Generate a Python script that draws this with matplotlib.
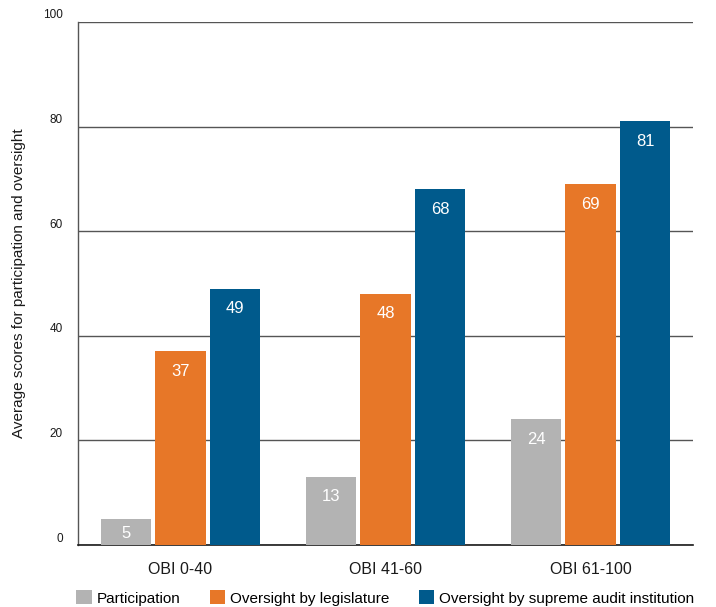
"""Average participation and oversight scores by OBI band."""

import matplotlib.pyplot as plt
import matplotlib.transforms as mtransforms
import numpy as np

GREY = "#B3B3B3"
ORANGE = "#E77728"
BLUE = "#005A8C"
INK = "#1A1A1A"
GRID = "#555555"

groups = ["OBI 0-40", "OBI 41-60", "OBI 61-100"]
series_names = [
    "Participation",
    "Oversight by legislature",
    "Oversight by supreme audit institution",
]
participation = [5, 13, 24]
legislature = [37, 48, 69]
audit = [49, 68, 81]
y_ticks = [0, 20, 40, 60, 80, 100]

plt.rcParams["font.family"] = ["Liberation Sans", "DejaVu Sans"]

fig = plt.figure(figsize=(7.16, 6.07), dpi=100)
ax = fig.add_axes([78 / 716, 62 / 607, 615 / 716, 523 / 607])

x = np.arange(len(groups))
width = 0.244
step = 0.266
colors = [GREY, ORANGE, BLUE]
all_series = [participation, legislature, audit]

for i, (vals, color, name) in enumerate(zip(all_series, colors, series_names)):
    pos = x + (i - 1) * step
    bars = ax.bar(pos, vals, width=width, color=color, label=name, zorder=3)
    for bar, v in zip(bars, vals):
        # label sits ~20 px under the bar top, or mid-bar when the bar is short
        drop = min(3.8, v / 2 + 0.3)
        ax.text(
            bar.get_x() + bar.get_width() / 2,
            v - drop,
            f"{v}",
            ha="center",
            va="center",
            color="white",
            fontsize=12,
            zorder=4,
        )

ax.set_xlim(-0.5, 2.5)
ax.set_ylim(0, 100)
ax.set_yticks(y_ticks)
ax.set_yticklabels([str(t) for t in y_ticks], fontsize=8.5, color=INK)
ax.set_xticks(x)
ax.set_xticklabels(groups, fontsize=11.5, color=INK)
ax.tick_params(axis="y", length=0, pad=11)
ax.tick_params(axis="x", length=0, pad=12)

# nudge y tick labels so they sit above their gridlines
shift = mtransforms.ScaledTranslation(0, 8 / 100, fig.dpi_scale_trans)
for lbl in ax.get_yticklabels():
    lbl.set_transform(lbl.get_transform() + shift)

ax.grid(axis="y", color=GRID, linewidth=1.0)
ax.set_axisbelow(True)
for spine in ("top", "right"):
    ax.spines[spine].set_visible(False)
ax.spines["left"].set_color(GRID)
ax.spines["left"].set_linewidth(1.0)
ax.spines["bottom"].set_color(INK)
ax.spines["bottom"].set_linewidth(1.2)

ax.set_ylabel(
    "Average scores for participation and oversight",
    fontsize=11,
    color=INK,
)
ax.yaxis.set_label_coords(-52 / 615, 0.5)

ax.legend(
    loc="center",
    bbox_to_anchor=(0.5, -53 / 523),
    ncol=3,
    frameon=False,
    fontsize=11,
    handlelength=1.0,
    handleheight=1.0,
    handletextpad=0.35,
    columnspacing=1.9,
    borderaxespad=0,
    borderpad=0,
)

fig.savefig("out.png", dpi=100)
